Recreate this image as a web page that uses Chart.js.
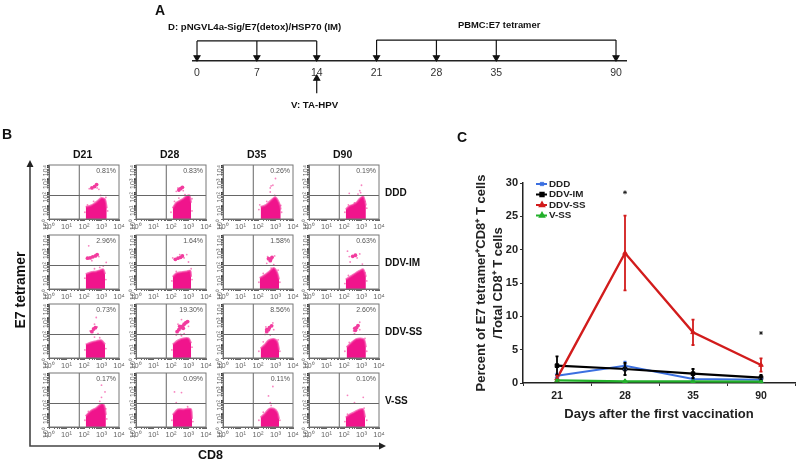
<!DOCTYPE html>
<html>
<head>
<meta charset="utf-8">
<script src="https://cdn.jsdelivr.net/npm/chart.js@4"></script>
<style>
  html, body { margin: 0; padding: 0; background: #fff; }
  #page { position: relative; width: 800px; height: 462px; overflow: hidden; font-family: "Liberation Sans", Arial, sans-serif; filter: blur(0.35px); }
  #page canvas { position: absolute; }
  .txt { position: absolute; font-weight: bold; color: #111; white-space: nowrap; line-height: 1; }
  .rot { transform: translate(-50%, -50%) rotate(-90deg); }
  svg { position: absolute; left: 0; top: 0; }
</style>
</head>
<body>
<div id="page">
  <svg width="800" height="462">
    <path d="M30 166V446H380" fill="none" stroke="#444" stroke-width="1.6"/>
    <path d="M26.5 167L30 160L33.5 167Z M379 442.5L386 446L379 449.5Z" fill="#222"/>
  </svg>
  <div class="txt" style="left:155px;top:3px;font-size:14px">A</div>
  <div class="txt" style="left:2px;top:127px;font-size:14px">B</div>
  <div class="txt" style="left:457px;top:130px;font-size:14px">C</div>
  <div class="txt" style="left:168px;top:22px;font-size:9.6px">D: pNGVL4a-Sig/E7(detox)/HSP70 (IM)</div>
  <div class="txt" style="left:458px;top:20px;font-size:9.4px">PBMC:E7 tetramer</div>
  <div class="txt" style="left:291px;top:100px;font-size:9.7px">V: TA-HPV</div>
  <div class="txt rot" style="left:20px;top:290px;font-size:14px">E7 tetramer</div>
  <div class="txt" style="left:198px;top:449px;font-size:12.5px">CD8</div>
  <canvas id="chart_A"></canvas>
  <canvas id="chart_C"></canvas>
</div>

<script>
/* ------------------
  panel A: timeline
-------------------*/
const timelineLabels = ['0', '7', '14', '21', '28', '35', '', '90'];
const bracketD = [0, 1, 2];
const bracketPBMC = [3, 4, 5, 7];
const boostSlot = 2;

/* ------------------
  panel B: flow plots in log10 decades
-------------------*/
const flowDays = ['D21', 'D28', 'D35', 'D90'];
const flowGroups = ['DDD', 'DDV-IM', 'DDV-SS', 'V-SS'];
const flowPercent = [
  ['0.81%', '0.83%', '0.26%', '0.19%'],
  ['2.96%', '1.64%', '1.58%', '0.63%'],
  ['0.73%', '19.30%', '8.56%', '2.60%'],
  ['0.17%', '0.09%', '0.11%', '0.10%']
];
// top edge of the main CD8+ cloud, [x, top]
const flowMain = [
  [
    [[2.1,.9],[2.4,1.0],[2.6,1.15],[2.8,1.35],[3.0,1.55],[3.2,1.45],[3.3,.8]],
    [[2.1,.8],[2.3,1.2],[2.5,1.35],[2.7,1.5],[2.9,1.7],[3.05,1.75],[3.15,1.2]],
    [[2.15,.9],[2.4,1.0],[2.6,1.2],[2.8,1.45],[3.0,1.6],[3.2,1.2],[3.3,.7]],
    [[2.1,.7],[2.3,.95],[2.5,1.05],[2.7,1.2],[2.9,1.5],[3.1,1.65],[3.25,1.0]]
  ],
  [
    [[2.1,1.1],[2.4,1.25],[2.7,1.3],[2.95,1.4],[3.1,1.45],[3.2,1.1]],
    [[2.1,.9],[2.3,1.15],[2.6,1.25],[2.9,1.3],[3.1,1.35],[3.15,.9]],
    [[2.1,.8],[2.4,1.05],[2.65,1.3],[2.9,1.55],[3.1,1.2],[3.2,.7]],
    [[2.1,.7],[2.4,.95],[2.7,1.2],[2.9,1.35],[3.1,1.45],[3.25,.9]]
  ],
  [
    [[2.1,1.0],[2.4,1.15],[2.7,1.25],[3.0,1.3],[3.2,1.0]],
    [[2.1,1.0],[2.4,1.3],[2.7,1.45],[3.0,1.45],[3.15,1.1]],
    [[2.15,.7],[2.4,1.0],[2.6,1.3],[2.9,1.4],[3.1,1.2],[3.2,.6]],
    [[2.15,.8],[2.4,1.1],[2.7,1.4],[2.95,1.45],[3.15,1.35],[3.25,.8]]
  ],
  [
    [[2.1,.8],[2.4,1.2],[2.7,1.4],[3.0,1.7],[3.15,1.6],[3.25,.9]],
    [[2.1,.9],[2.4,1.3],[2.7,1.3],[3.0,1.35],[3.15,1.3],[3.2,.6]],
    [[2.15,.7],[2.4,1.0],[2.65,1.35],[2.9,1.35],[3.1,1.1],[3.2,.6]],
    [[2.1,.7],[2.3,.9],[2.6,1.1],[2.9,1.3],[3.1,1.3],[3.2,.7]]
  ]
];
// dense tetramer+ cluster above the gate
const flowUpper = [
  [
    [[2.45,2.3],[2.6,2.4],[2.72,2.55]],
    [[2.45,2.15],[2.55,2.25],[2.65,2.35]],
    [],
    []
  ],
  [
    [[2.2,2.28],[2.35,2.3],[2.5,2.38],[2.65,2.45],[2.75,2.55]],
    [[2.25,2.2],[2.4,2.28],[2.55,2.35],[2.65,2.45]],
    [[2.6,2.25],[2.72,2.2],[2.8,2.35],[2.7,2.1]],
    [[2.5,2.42],[2.65,2.5]]
  ],
  [
    [[2.45,1.95],[2.55,2.15],[2.65,2.25]],
    [[2.35,1.95],[2.45,2.1],[2.55,2.25],[2.65,2.35],[2.75,2.5],[2.85,2.62],[2.95,2.7],[2.5,2.35],[2.7,2.2]],
    [[2.5,1.95],[2.6,2.1],[2.65,2.25],[2.78,2.38],[2.5,2.1]],
    [[2.65,2.05],[2.72,2.25],[2.8,2.4],[2.62,2.2]]
  ],
  [[], [], [], []]
];
// scattered single events around the clouds
const flowSparse = [
  [
    [[2.3,2.25],[2.85,2.2],[2.75,2.3],[2.05,.5],[3.35,.6],[2.2,1.05],[2.55,1.3],[3.25,1.6],[2.95,1.75]],
    [[2.3,2.05],[2.7,2.1],[2.4,2.3],[2.0,.5],[3.2,.6],[2.2,1.3],[2.45,1.55],[2.8,1.8],[3.2,1.5]],
    [[2.7,2.3],[2.75,2.45],[2.85,2.5],[2.7,2.0],[3.0,3.0],[2.05,.7],[2.1,1.05],[2.5,1.3],[3.3,1.0],[3.35,.5],[2.95,1.75]],
    [[2.3,1.9],[2.9,2.1],[3.0,2.5],[2.8,1.85],[2.95,1.95],[2.05,.5],[2.25,1.05],[2.6,1.2],[3.3,.8],[3.2,1.3]]
  ],
  [
    [[2.27,3.2],[2.45,2.1],[2.85,2.4],[3.27,1.97],[3.1,1.7],[2.05,.8],[3.25,.7],[2.6,1.5],[2.9,1.6]],
    [[2.1,2.3],[2.75,2.3],[2.9,2.55],[2.5,2.55],[3.0,2.0],[2.05,.6],[3.2,.7],[2.3,1.3],[3.15,1.5]],
    [[2.55,2.4],[2.95,2.45],[2.5,1.9],[2.9,1.8],[2.05,.5],[3.25,.5],[2.3,1.15],[2.75,1.55],[3.15,1.4]],
    [[2.2,2.8],[2.3,2.4],[2.75,2.3],[2.9,2.6],[3.05,1.85],[2.35,2.0],[2.05,.4],[2.25,1.0],[3.3,.6],[3.2,1.2]]
  ],
  [
    [[2.7,3.0],[2.6,2.5],[2.75,2.3],[2.35,2.0],[2.8,1.8],[2.6,1.55],[2.05,.6],[3.25,.7],[2.9,1.5]],
    [[2.6,2.85],[2.4,2.5],[2.55,1.75],[2.75,1.8],[2.3,1.7],[3.0,2.35],[2.05,.6],[3.2,.8],[2.6,1.65]],
    [[2.85,2.6],[2.45,2.3],[2.9,2.1],[2.4,1.75],[2.7,1.7],[2.05,.5],[3.25,.5],[2.3,1.2],[3.15,1.35]],
    [[2.9,2.65],[2.55,2.0],[2.9,2.1],[2.6,1.8],[2.05,.5],[3.3,.5],[2.3,1.15],[3.2,1.45]]
  ],
  [
    [[3.0,2.2],[2.9,1.9],[3.2,2.6],[3.0,3.1],[2.05,.5],[2.25,1.15],[3.3,.6],[3.25,1.35]],
    [[2.2,2.6],[2.6,2.55],[2.3,1.8],[2.05,.5],[3.25,.4],[2.95,1.5]],
    [[2.6,2.3],[2.85,3.0],[2.7,1.8],[2.75,1.6],[2.05,.5],[3.25,.5],[2.3,1.1]],
    [[2.2,2.35],[3.1,2.2],[2.6,1.8],[2.05,.4],[3.3,.5],[2.2,.95],[3.15,1.4]]
  ]
];
const gateX = 1.73;
const gateY = 1.74;
const flowTickLabels = ['10\u2070', '10\u00b9', '10\u00b2', '10\u00b3', '10\u2074'];

/* ------------------
  panel C: tetramer time course
-------------------*/
const weeks = ['21', '28', '35', '90'];
const seriesNames = ['DDD', 'DDV-IM', 'DDV-SS', 'V-SS'];
const seriesColors = ['#3b6fe0', '#000000', '#d21c1c', '#22b02a'];
const seriesStyles = ['crossRot', 'rect', 'triangle', 'triangle'];
const seriesWidths = [2, 2.2, 2.4, 2.2];
const valuesDDD = [1.1, 2.6, 0.6, 0.5];
const valuesDDVIM = [2.6, 2.1, 1.4, 0.8];
const valuesDDVSS = [0.7, 19.5, 7.6, 2.7];
const valuesVSS = [0.4, 0.25, 0.25, 0.2];
const errorDDD = [0.3, 0.6, 0.2, 0.1];
const errorDDVIM = [1.4, 0.9, 0.7, 0.4];
const errorDDVSS = [0.4, 5.6, 1.9, 1.0];
const errorVSS = [0.1, 0.1, 0.1, 0.1];
const significance = [null, 28.6, null, 7.5];

var page = document.getElementById('page');
Chart.defaults.font.family = '"Liberation Sans", Arial, sans-serif';
Chart.defaults.animation = false;
Chart.defaults.responsive = false;
Chart.defaults.plugins.legend.display = false;
Chart.defaults.plugins.tooltip.enabled = false;

function placeCanvas(el, left, top, width, height) {
  el.width = width;
  el.height = height;
  el.style.left = left + 'px';
  el.style.top = top + 'px';
  el.style.width = width + 'px';
  el.style.height = height + 'px';
}

function addLabel(text, left, top, size) {
  var d = document.createElement('div');
  d.className = 'txt';
  d.textContent = text;
  d.style.left = left + 'px';
  d.style.top = top + 'px';
  d.style.fontSize = size + 'px';
  page.appendChild(d);
}

/************************************************************
    Panel A
*************************************************************/
function dropArrow(slot, level) {
  return {
    data: [{x: slot, y: level}, {x: slot, y: 4}],
    borderColor: '#111', backgroundColor: '#111', borderWidth: 1.2,
    showLine: true, pointRadius: [0, 3.4], pointStyle: 'triangle', pointRotation: 180
  };
}
function bracketLine(slots, level) {
  return {
    data: [{x: slots[0], y: level}, {x: slots[slots.length - 1], y: level}],
    borderColor: '#111', borderWidth: 1.2, showLine: true, pointRadius: 0
  };
}

var timelineSets = [bracketLine(bracketD, 22), bracketLine(bracketPBMC, 23)];
bracketD.forEach(function (s) { timelineSets.push(dropArrow(s, 22)); });
bracketPBMC.forEach(function (s) { timelineSets.push(dropArrow(s, 23)); });
timelineSets.push({
  data: [{x: boostSlot, y: -35}, {x: boostSlot, y: -19}],
  borderColor: '#111', backgroundColor: '#111', borderWidth: 1.2,
  showLine: true, pointRadius: [0, 3.4], pointStyle: 'triangle'
});

placeCanvas(document.getElementById('chart_A'), 140, 0, 500, 125);
new Chart(document.getElementById('chart_A'), {
  type: 'scatter',
  data: {datasets: timelineSets},
  options: {
    layout: {padding: {left: 53, right: 14, top: 0, bottom: 0}},
    scales: {
      x: {
        type: 'linear', position: {y: 0}, min: -0.067, max: 7.167,
        afterBuildTicks: function (s) { s.ticks = timelineLabels.map(function (t, i) { return {value: i}; }); },
        grid: {display: false, drawTicks: false},
        border: {display: true, color: '#222', width: 1.6},
        ticks: {
          autoSkip: false, maxRotation: 0, padding: 6, color: '#333', font: {size: 10.5},
          callback: function (v) { return timelineLabels[v]; }
        }
      },
      y: {display: false, min: -64, max: 61}
    }
  }
});

/************************************************************
    Panel B
*************************************************************/
const flowLeft = [49, 136, 223, 309];
const flowTop = [165, 235, 304, 373];

function decadeTicks(s) {
  var t = [];
  for (var d = 0; d < 4; d++) {
    t.push({value: d});
    [0.3, 0.48, 0.6, 0.7, 0.78, 0.85, 0.9, 0.95].forEach(function (m) { t.push({value: d + m}); });
  }
  t.push({value: 4});
  s.ticks = t;
}
function decadeLabel(v) {
  return Number.isInteger(v) ? flowTickLabels[v] : '';
}
function flowAxis(extra) {
  return Object.assign({
    type: 'linear', min: 0, max: 4,
    afterBuildTicks: decadeTicks,
    grid: {drawOnChartArea: false, drawTicks: true, tickLength: 2, color: '#222', lineWidth: 0.7},
    border: {color: '#666', width: 1}
  }, extra);
}

// frame of the plot and the percentage in its upper right quadrant
var flowFrame = {
  id: 'flowFrame',
  afterDraw: function (chart) {
    var a = chart.chartArea, c = chart.ctx;
    c.save();
    c.strokeStyle = '#777';
    c.lineWidth = 1;
    c.strokeRect(a.left, a.top, a.right - a.left, a.bottom - a.top);
    c.fillStyle = '#555';
    c.font = '7px "Liberation Sans"';
    c.textAlign = 'right';
    c.fillText(chart.options.plugins.flowFrame.text, a.right - 3, a.top + 8);
    c.restore();
  }
};

flowGroups.forEach(function (group, r) {
  flowDays.forEach(function (day, k) {
    var el = document.createElement('canvas');
    page.appendChild(el);
    placeCanvas(el, flowLeft[k] - 17, flowTop[r] - 7, 97, 75);
    new Chart(el, {
      type: 'scatter',
      plugins: [flowFrame],
      data: {
        datasets: [
          {data: [{x: gateX, y: 0}, {x: gateX, y: 4}], showLine: true, borderColor: '#666', borderWidth: 1, pointRadius: 0},
          {data: [{x: 0, y: gateY}, {x: 4, y: gateY}], showLine: true, borderColor: '#666', borderWidth: 1, pointRadius: 0},
          {
            data: flowMain[r][k].map(function (p) { return {x: p[0], y: p[1]}; }),
            showLine: true, tension: 0.3, fill: 'origin', borderWidth: 2,
            borderColor: 'rgba(244,60,160,0.7)', backgroundColor: '#f0148c', pointRadius: 0
          },
          {
            data: flowUpper[r][k].map(function (p) { return {x: p[0], y: p[1]}; }),
            backgroundColor: '#f23c9e', borderWidth: 0, pointRadius: 1.9
          },
          {
            data: flowSparse[r][k].map(function (p) { return {x: p[0], y: p[1]}; }),
            backgroundColor: 'rgba(244,90,170,0.75)', borderWidth: 0, pointRadius: 0.9
          }
        ]
      },
      options: {
        layout: {padding: {left: 0, right: 10, top: 7, bottom: 0}},
        plugins: {flowFrame: {text: flowPercent[r][k]}},
        scales: {
          x: flowAxis({
            afterFit: function (s) { s.height = 14; s.paddingLeft = 0; s.paddingRight = 0; },
            ticks: {autoSkip: false, maxRotation: 0, minRotation: 0, padding: 1, color: '#666', font: {size: 7.5}, callback: decadeLabel}
          }),
          y: flowAxis({
            afterFit: function (s) { s.width = 17; s.paddingTop = 0; s.paddingBottom = 0; },
            ticks: {autoSkip: false, maxRotation: 90, minRotation: 90, padding: 1, color: '#666', font: {size: 7.5}, callback: decadeLabel}
          })
        }
      }
    });
  });
});

flowDays.forEach(function (day, k) { addLabel(day, flowLeft[k] + 24, 149, 10.5); });
flowGroups.forEach(function (group, r) { addLabel(group, 385, flowTop[r] + 23, 10); });

/************************************************************
    Panel C
*************************************************************/
const seriesValues = [valuesDDD, valuesDDVIM, valuesDDVSS, valuesVSS];
const seriesErrors = [errorDDD, errorDDVIM, errorDDVSS, errorVSS];
const seriesOrder = [3, 2, 1, 0];

var courseSets = seriesNames.map(function (name, i) {
  return {
    label: name, data: seriesValues[i], order: seriesOrder[i],
    borderColor: seriesColors[i], backgroundColor: seriesColors[i], borderWidth: seriesWidths[i],
    pointStyle: seriesStyles[i], pointRadius: 2.6, pointBorderWidth: 1, tension: 0
  };
});
courseSets.push({
  label: '*', data: significance, order: 0, showLine: false,
  pointStyle: 'star', pointRadius: 2, borderColor: '#111', borderWidth: 0.8
});

// error bars, and the hand-set legend in the top left corner
var courseExtras = {
  id: 'courseExtras',
  afterDatasetsDraw: function (chart) {
    var c = chart.ctx, xs = chart.scales.x, ys = chart.scales.y;
    c.save();
    seriesNames.forEach(function (name, i) {
      c.strokeStyle = seriesColors[i];
      c.lineWidth = 1.8;
      weeks.forEach(function (w, j) {
        var px = xs.getPixelForValue(j);
        var hi = ys.getPixelForValue(seriesValues[i][j] + seriesErrors[i][j]);
        var lo = ys.getPixelForValue(Math.max(seriesValues[i][j] - seriesErrors[i][j], 0));
        c.beginPath();
        c.moveTo(px, hi); c.lineTo(px, lo);
        c.moveTo(px - 1.5, hi); c.lineTo(px + 1.5, hi);
        c.moveTo(px - 1.5, lo); c.lineTo(px + 1.5, lo);
        c.stroke();
      });
    });
    c.textBaseline = 'middle';
    c.font = 'bold 9.8px "Liberation Sans"';
    seriesNames.forEach(function (name, i) {
      var y = chart.chartArea.top + 1 + i * 10.5;
      var x0 = chart.chartArea.left + 13;
      c.strokeStyle = seriesColors[i];
      c.fillStyle = seriesColors[i];
      c.lineWidth = 2;
      c.beginPath();
      c.moveTo(x0, y); c.lineTo(x0 + 11, y);
      c.stroke();
      Chart.helpers.drawPoint(c, {pointStyle: seriesStyles[i], radius: 2.4, rotation: 0, borderWidth: 1}, x0 + 6, y);
      c.fillStyle = '#222';
      c.fillText(name, x0 + 13, y);
    });
    c.restore();
  }
};

placeCanvas(document.getElementById('chart_C'), 460, 170, 340, 252);
new Chart(document.getElementById('chart_C'), {
  type: 'line',
  plugins: [courseExtras],
  data: {labels: weeks, datasets: courseSets},
  options: {
    layout: {padding: {left: 0, right: 3, top: 13, bottom: 0}},
    scales: {
      x: {
        offset: true,
        afterFit: function (s) { s.height = 39; s.paddingLeft = 0; s.paddingRight = 0; },
        grid: {drawOnChartArea: false, offset: true, tickLength: 3, color: '#333'},
        border: {color: '#222', width: 1.5},
        ticks: {color: '#222', padding: 4, font: {size: 10.5, weight: 'bold'}},
        title: {
          display: true, text: 'Days after the first vaccination', color: '#222',
          font: {size: 13, weight: 'bold'}, padding: {top: 5, bottom: 0}
        }
      },
      y: {
        min: 0, max: 30,
        afterFit: function (s) { s.width = 63; },
        grid: {drawOnChartArea: false, tickLength: 3, color: '#333'},
        border: {color: '#222', width: 1.5},
        ticks: {stepSize: 5, color: '#222', padding: 2, font: {size: 11, weight: 'bold'}},
        title: {
          display: true, text: ['Percent of E7 tetramer\u207aCD8\u207a T cells', '/Total CD8\u207a T cells'],
          color: '#222', font: {size: 13, weight: 'bold', lineHeight: 1.3}, padding: {top: 13, bottom: 0}
        }
      }
    }
  }
});
</script>
</body>
</html>
